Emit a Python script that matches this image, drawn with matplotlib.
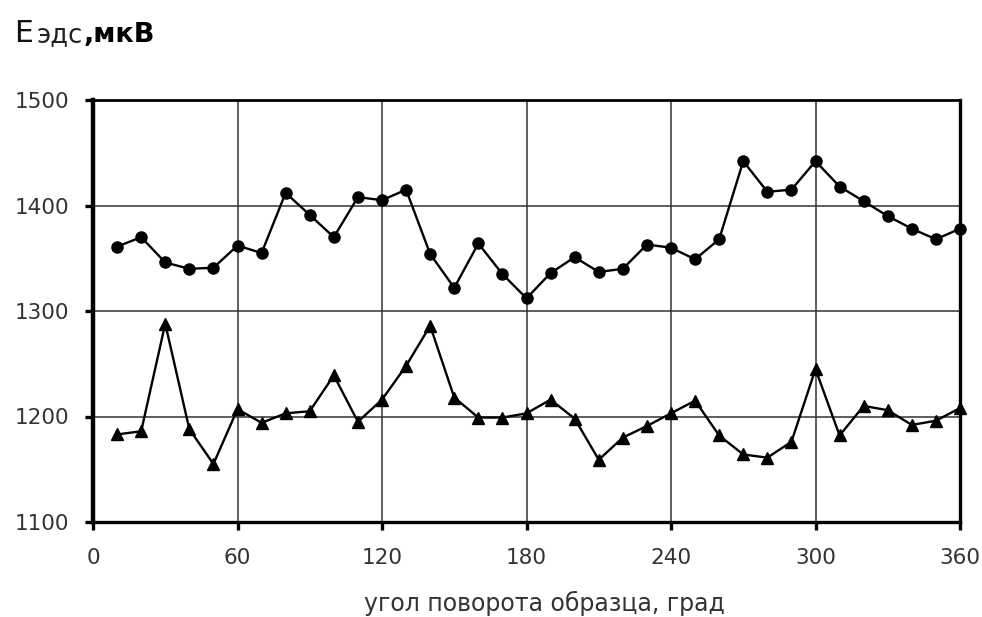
import matplotlib
matplotlib.use("Agg")
import matplotlib.pyplot as plt

plt.rcParams["font.family"] = ["DejaVu Sans"]

# углы поворота образца, град
angles = [10, 20, 30, 40, 50, 60, 70, 80, 90, 100, 110, 120, 130, 140, 150, 160, 170, 180,
          190, 200, 210, 220, 230, 240, 250, 260, 270, 280, 290, 300, 310, 320, 330, 340, 350, 360]
# верхняя серия (кружки)
e_circles = [1361, 1370, 1346, 1340, 1341, 1362, 1355, 1412, 1391, 1370, 1408, 1405,
             1415, 1354, 1322, 1364, 1335, 1312, 1336, 1351, 1337, 1340, 1363, 1360,
             1349, 1368, 1442, 1413, 1415, 1442, 1418, 1404, 1390, 1378, 1368, 1378]
# нижняя серия (треугольники)
e_triangles = [1183, 1186, 1288, 1188, 1155, 1207, 1194, 1203, 1205, 1239, 1195, 1216,
               1248, 1286, 1218, 1199, 1199, 1203, 1216, 1198, 1159, 1180, 1191, 1203,
               1215, 1182, 1164, 1161, 1176, 1245, 1182, 1210, 1206, 1192, 1196, 1208]

x_ticks = [0, 60, 120, 180, 240, 300, 360]
y_ticks = [1100, 1200, 1300, 1400, 1500]

W, H = 982, 617
fig = plt.figure(figsize=(W / 100, H / 100), dpi=100)
ax = fig.add_axes([93 / W, 1 - 522 / H, (960 - 93) / W, (522 - 100) / H])

ax.plot(angles, e_circles, color="black", lw=1.7, marker="o", ms=8, zorder=3, clip_on=False)
ax.plot(angles, e_triangles, color="black", lw=1.7, marker="^", ms=8.5, zorder=3, clip_on=False)

ax.set_xlim(0, 360)
ax.set_ylim(1100, 1500)
ax.set_xticks(x_ticks)
ax.set_yticks(y_ticks)
ax.grid(True, color="#333333", lw=1.1)
ax.set_axisbelow(True)

ax.spines["left"].set_linewidth(3.2)
ax.spines["bottom"].set_linewidth(2.4)
ax.spines["top"].set_linewidth(2.0)
ax.spines["right"].set_linewidth(2.4)

ax.tick_params(axis="both", direction="out", length=6, width=2.4, labelsize=15.5, colors="black")
ax.tick_params(axis="y", pad=11)
ax.tick_params(axis="x", pad=13)
for lab in ax.get_xticklabels() + ax.get_yticklabels():
    lab.set_color("#333333")

# подпись оси X
fig.text(544 / W, 1 - 611 / H, "угол поворота образца, град", fontsize=17,
         ha="center", va="baseline", color="#333333")

# подпись оси Y: Eэдс,мкВ
base_y = 1 - 42 / H
fig.text(14 / W, base_y, "E", fontsize=21.5, va="baseline", ha="left", color="#111111")
fig.text(37 / W, base_y, "эдс", fontsize=18.5, va="baseline", ha="left", color="#222222")
fig.text(84 / W, base_y, ",мкВ", fontsize=19.5, fontweight="bold", va="baseline", ha="left")

fig.savefig("out.png", dpi=100, facecolor="white")
